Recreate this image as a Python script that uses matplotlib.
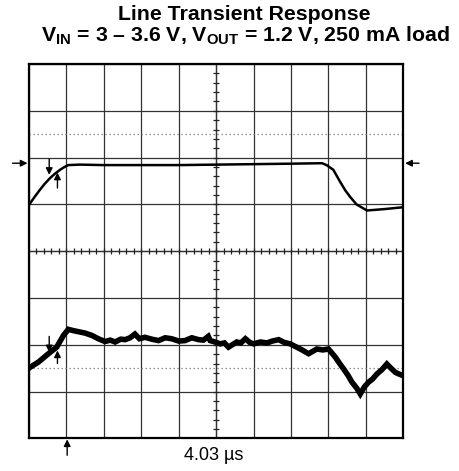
import numpy as np
import matplotlib
matplotlib.use("Agg")
import matplotlib.pyplot as plt

plt.rcParams['font.family'] = ['Liberation Sans', 'DejaVu Sans']
plt.rcParams['mathtext.fontset'] = 'custom'
plt.rcParams['mathtext.rm'] = 'Liberation Sans'
plt.rcParams['mathtext.bf'] = 'Liberation Sans:bold'

# scope divisions: 10 x 8
vin_x = [0.0, 0.15, 0.29, 0.42, 0.56, 0.7, 0.83, 0.95, 1.05, 1.36, 2.0, 3.0, 4.0,
         5.0, 6.0, 7.0, 7.83, 7.95, 8.13, 8.3, 8.45, 8.58, 8.75, 9.03, 9.5, 10.0]
vin_y = [4.99, 5.16, 5.31, 5.44, 5.56, 5.66, 5.74, 5.8, 5.84, 5.85, 5.84, 5.84, 5.84,
         5.85, 5.86, 5.87, 5.88, 5.84, 5.74, 5.5, 5.3, 5.16, 5.0, 4.87, 4.9, 4.94]

vout_x = [0.0, 0.03, 0.25, 0.52, 0.74, 0.92, 1.05, 1.2, 1.32, 1.5, 1.68, 1.85, 2.03,
          2.17, 2.3, 2.45, 2.57, 2.7, 2.83, 2.95, 3.1, 3.28, 3.46, 3.64, 3.81, 4.0,
          4.17, 4.35, 4.53, 4.66, 4.79, 4.84, 4.97, 5.11, 5.22, 5.33, 5.45, 5.55,
          5.66, 5.78, 5.9, 6.0, 6.18, 6.36, 6.5, 6.67, 6.82, 6.98, 7.1, 7.25, 7.36,
          7.47, 7.58, 7.69, 7.85, 8.0, 8.18, 8.3, 8.4, 8.52, 8.63, 8.75, 8.85, 8.96,
          9.07, 9.18, 9.3, 9.43, 9.56, 9.67, 9.79, 9.9, 10.0]
vout_y = [1.5, 1.52, 1.63, 1.81, 1.95, 2.2, 2.33, 2.3, 2.28, 2.25, 2.2, 2.13, 2.07,
          2.1, 2.06, 2.12, 2.11, 2.15, 2.23, 2.13, 2.16, 2.12, 2.09, 2.15, 2.13, 2.08,
          2.09, 2.15, 2.11, 2.1, 2.18, 2.09, 2.06, 2.02, 2.04, 1.95, 2.01, 2.06,
          2.04, 2.13, 2.05, 2.02, 2.06, 2.04, 2.08, 2.11, 2.05, 2.02, 1.97, 1.91, 1.86,
          1.81, 1.86, 1.91, 1.89, 1.91, 1.74, 1.6, 1.49, 1.35, 1.2, 1.08, 0.95, 1.1,
          1.2, 1.27, 1.38, 1.47, 1.59, 1.5, 1.41, 1.37, 1.34]

vin_cursor_y = [5.97, 5.63, 5.35, 5.68]
vout_cursor_y = [2.18, 1.84, 1.60, 1.88]
cursor_x = [0.54, 0.76]
level_y = 5.88
trig_x = 1.02
label = "4.03 \u00b5s"

fig = plt.figure(figsize=(4.6, 4.71), dpi=100)
ax = fig.add_axes([29/460, 1-438.4/471, 374.3/460, 374.4/471])
ax.set_xlim(0, 10)
ax.set_ylim(0, 8)
ax.set_xticks(range(11))
ax.set_yticks(range(9))
ax.tick_params(length=0, labelbottom=False, labelleft=False)
ax.grid(True, color='#333333', lw=0.9)
for s in ax.spines.values():
    s.set_linewidth(1.6)
    s.set_color('black')

# dotted reference lines
for yy in (6.5, 1.5):
    ax.axhline(yy, color='#777777', lw=0.9, ls=(0, (1, 2.2)))

# centre axes with minor ticks
ax.axhline(4, color='#333333', lw=0.9)
ax.axvline(5, color='#333333', lw=0.9)
mt = np.arange(0.2, 10, 0.2)
ax.plot(mt, np.full(len(mt), 4.0), ls='none', marker='|', ms=4.5, mew=0.9, color='#222222')
mt2 = np.arange(0.2, 8, 0.2)
ax.plot(np.full(len(mt2), 5.0), mt2, ls='none', marker='_', ms=4.5, mew=0.9, color='#222222')

ax.plot(vin_x, vin_y, color='black', lw=1.8, solid_joinstyle='round')
ax.plot(vout_x, vout_y, color='black', lw=4.0, solid_joinstyle='miter')

ap = dict(arrowstyle='-|>', color='black', lw=1.0, mutation_scale=10, shrinkA=0, shrinkB=0)
# level markers
ax.annotate('', xy=(-0.04, level_y), xytext=(-0.44, level_y), arrowprops=ap, annotation_clip=False)
ax.annotate('', xy=(10.05, level_y), xytext=(10.42, level_y), arrowprops=ap, annotation_clip=False)
# cursors
for cy in (vin_cursor_y, vout_cursor_y):
    ax.annotate('', xy=(cursor_x[0], cy[1]), xytext=(cursor_x[0], cy[0]), arrowprops=ap)
    ax.annotate('', xy=(cursor_x[1], cy[3]), xytext=(cursor_x[1], cy[2]), arrowprops=ap)
ax.annotate('', xy=(trig_x, -0.02), xytext=(trig_x, -0.36), arrowprops=ap, annotation_clip=False)

fig.text(214/460, 1-456/471, label, ha='center', va='center', fontsize=13)
fig.text(244/460, 1-14/471, 'Line Transient Response', ha='center', va='center',
         fontsize=15.3, fontweight='bold')
fig.text(245/460, 1-36/471,
         r'$\mathbf{V_{IN}}$ = 3 – 3.6 V, $\mathbf{V_{OUT}}$ = 1.2 V, 250 mA load',
         ha='center', va='center', fontsize=15.3, fontweight='bold')

fig.savefig('out.png', dpi=100)
